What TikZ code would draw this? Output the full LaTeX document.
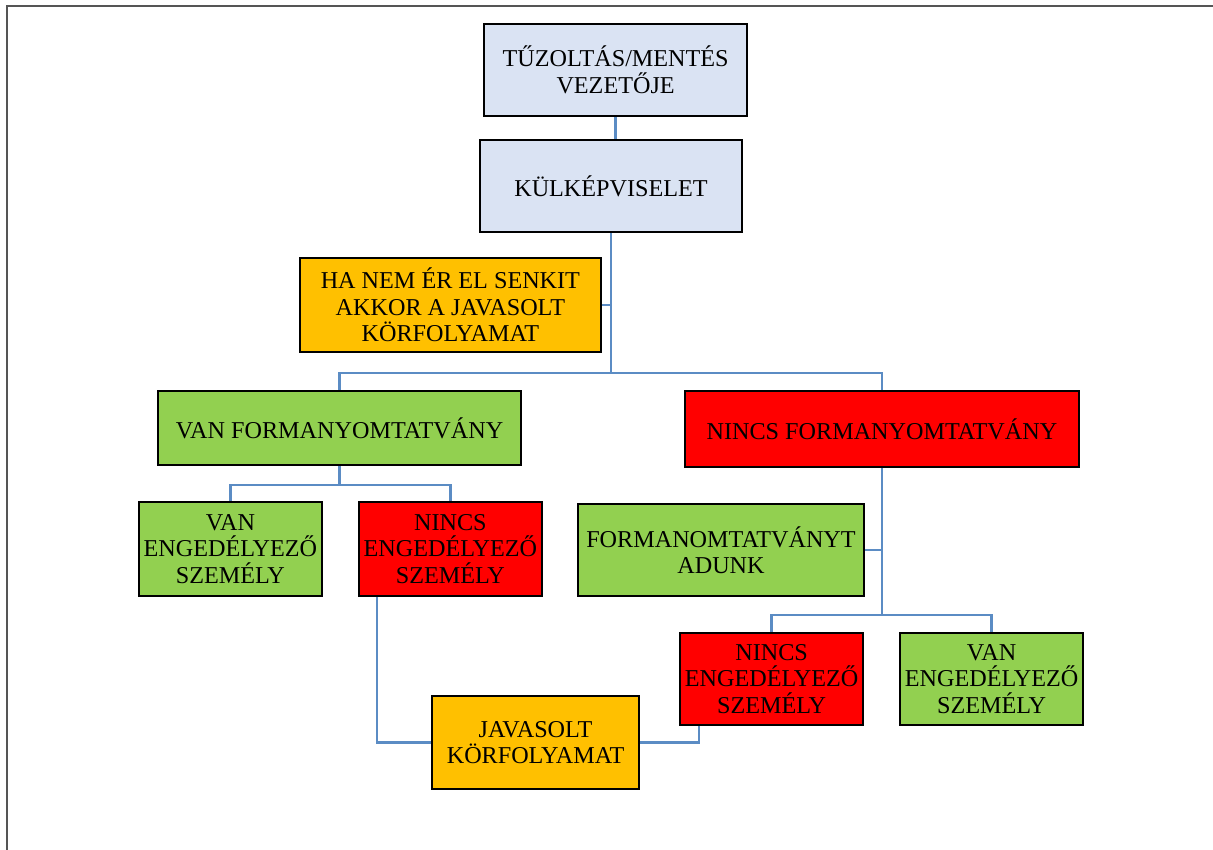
\documentclass[tikz,border=0pt]{standalone}
\usepackage{fontspec}
\setmainfont{Liberation Serif}
\usetikzlibrary{positioning}

\definecolor{chiefblue}{HTML}{DAE3F3}
\definecolor{proporange}{HTML}{FFC000}
\definecolor{okgreen}{HTML}{92D050}
\definecolor{nored}{HTML}{FF0000}
\definecolor{linkblue}{HTML}{5B8CC4}
\definecolor{framegray}{HTML}{555555}

\begin{document}
\begin{tikzpicture}[font=\fontsize{17.2}{18.8}\selectfont]
\useasboundingbox (0,0) rectangle (30.325,-21.25);

\tikzstyle{orgbox}=[align=center,draw=black,line width=1.6pt,inner sep=0pt]
\tikzstyle{orglink}=[draw=linkblue,line width=1.8pt]

% outer frame (only left and top edges show)
\draw[framegray,line width=1.5pt] (0.175,-21.25) -- (0.175,-0.15) -- (30.325,-0.15);

% top of the chain
\node[orgbox,fill=chiefblue,minimum width=6.575cm,minimum height=2.3cm] (chief) at (15.39,-1.75) {TŰZOLTÁS/MENTÉS\\VEZETŐJE};
\node[orgbox,fill=chiefblue,minimum width=6.55cm,minimum height=2.3cm] (rep) at (15.275,-4.65) {KÜLKÉPVISELET};
\node[orgbox,fill=proporange,minimum width=7.525cm,minimum height=2.35cm] (fallback) at (11.26,-7.625) {HA NEM ÉR EL SENKIT\\AKKOR A JAVASOLT\\KÖRFOLYAMAT};

% form / no form
\node[orgbox,fill=okgreen,minimum width=9.075cm,minimum height=1.85cm] (haveform) at (8.49,-10.7) {VAN FORMANYOMTATVÁNY};
\node[orgbox,fill=nored,minimum width=9.85cm,minimum height=1.9cm] (noform) at (22.05,-10.725) {NINCS FORMANYOMTATVÁNY};

% left branch
\node[orgbox,fill=okgreen,minimum width=4.575cm,minimum height=2.35cm] (haveauthL) at (5.76,-13.725) {VAN\\ENGEDÉLYEZŐ\\SZEMÉLY};
\node[orgbox,fill=nored,minimum width=4.575cm,minimum height=2.35cm] (noauthL) at (11.26,-13.725) {NINCS\\ENGEDÉLYEZŐ\\SZEMÉLY};

% right branch
\node[orgbox,fill=okgreen,minimum width=7.15cm,minimum height=2.3cm] (giveform) at (18.025,-13.75) {FORMANOMTATVÁNYT\\ADUNK};
\node[orgbox,fill=nored,minimum width=4.575cm,minimum height=2.3cm] (noauthR) at (19.29,-16.975) {NINCS\\ENGEDÉLYEZŐ\\SZEMÉLY};
\node[orgbox,fill=okgreen,minimum width=4.575cm,minimum height=2.3cm] (haveauthR) at (24.79,-16.975) {VAN\\ENGEDÉLYEZŐ\\SZEMÉLY};

\node[orgbox,fill=proporange,minimum width=5.175cm,minimum height=2.325cm] (proposal) at (13.39,-18.5625) {JAVASOLT\\KÖRFOLYAMAT};

% connectors
\draw[orglink] (chief.south) -- (chief.south |- rep.north);
\draw[orglink] (rep.south) -- ++(0,-3.5) coordinate (split1);
\draw[orglink] (fallback.east) -- (fallback.east -| rep.south);
\draw[orglink] (haveform.north) |- (split1) -| (noform.north);

\draw[orglink] (haveform.south) -- ++(0,-0.475) coordinate (split2);
\draw[orglink] (haveauthL.north) |- (split2) -| (noauthL.north);

\draw[orglink] (noform.south) -- ++(0,-3.675) coordinate (split3);
\draw[orglink] (giveform.east) -- (giveform.east -| noform.south);
\draw[orglink] (noauthR.north) |- (split3) -| (haveauthR.north);

\draw[orglink] ([xshift=0.475cm]noauthL.south west) |- (proposal.west);
\draw[orglink] ([xshift=0.5cm]noauthR.south west) |- (proposal.east);
\end{tikzpicture}
\end{document}
